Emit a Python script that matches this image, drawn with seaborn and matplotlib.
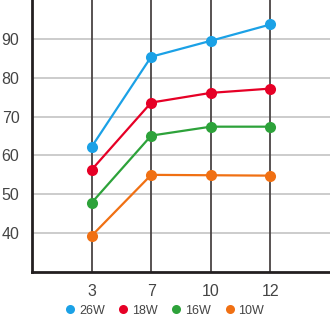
import matplotlib
matplotlib.use("Agg")
import matplotlib.pyplot as plt
import seaborn as sns
import pandas as pd

hours = ["3", "7", "10", "12"]
w26 = [62.2, 85.4, 89.5, 93.7]
w18 = [56.3, 73.6, 76.1, 77.2]
w16 = [47.8, 65.1, 67.4, 67.4]
w10 = [39.3, 55.0, 54.9, 54.8]
series_names = ["26W", "18W", "16W", "10W"]
colors = ["#1ba1e6", "#e60026", "#2da23a", "#f07013"]
y_ticks = [40, 50, 60, 70, 80, 90]

rows = []
for name, vals in zip(series_names, [w26, w18, w16, w10]):
    for h, v in zip(hours, vals):
        rows.append({"hour": h, "value": v, "power": name})
df = pd.DataFrame(rows)

sns.set_style("white")
plt.rcParams["font.family"] = ["Liberation Sans", "DejaVu Sans"]
fig = plt.figure(figsize=(3.3, 3.24), dpi=100)
ax = fig.add_axes([32 / 330, 52 / 324, 298 / 330, 272 / 324])

sns.lineplot(data=df, x="hour", y="value", hue="power", hue_order=series_names,
             palette=colors, marker="o", markersize=8, markeredgewidth=0,
             linewidth=1.6, sort=False, ax=ax, legend=False, zorder=3)

ax.set_xlim(-1, 4)
ax.set_ylim(30, 100)
ax.set_yticks(y_ticks)
ax.set_xticks(range(len(hours)))
ax.set_xticklabels(hours)
ax.set_xlabel("")
ax.set_ylabel("")

for y in y_ticks:
    ax.axhline(y, color="#cccccc", linewidth=1.4, zorder=1)
for i in range(len(hours)):
    ax.axvline(i, color="#4a4444", linewidth=1.3, zorder=2)

for side in ["top", "right"]:
    ax.spines[side].set_visible(False)
for side in ["left", "bottom"]:
    ax.spines[side].set_color("#231f20")
    ax.spines[side].set_linewidth(2)

ax.tick_params(axis="both", length=0, labelsize=11.5, colors="#444444")
ax.tick_params(axis="x", pad=9)
ax.tick_params(axis="y", pad=9)

handles = [plt.Line2D([], [], marker="o", linestyle="", color=c, markersize=6.5,
                      markeredgewidth=0) for c in colors]
fig.legend(handles, series_names, loc="lower center", bbox_to_anchor=(0.497, -0.012),
           ncol=4, frameon=False, fontsize=9, handletextpad=0.2,
           columnspacing=1.0, handlelength=1.0, labelcolor="#444444")

fig.savefig("out.png", dpi=100)
